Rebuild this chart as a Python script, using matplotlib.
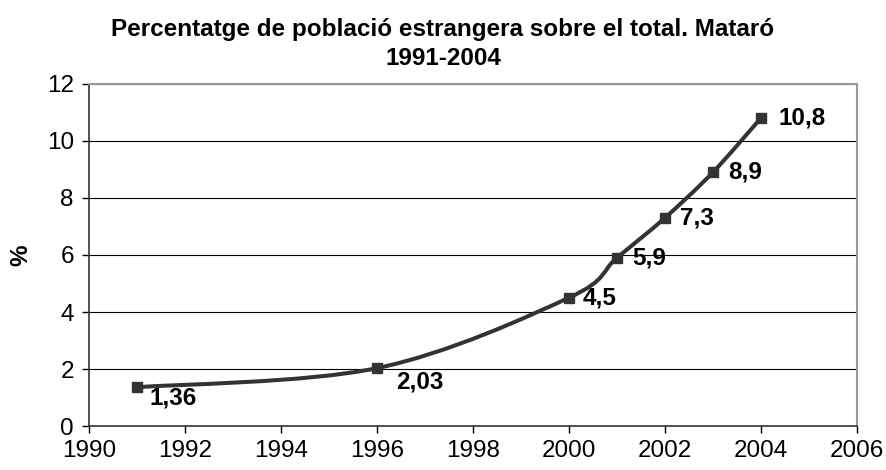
import numpy as np
import matplotlib.pyplot as plt
from matplotlib.path import Path
from matplotlib.patches import PathPatch

plt.rcParams['font.family'] = ['Liberation Sans', 'DejaVu Sans']

years = [1991, 1996, 2000, 2001, 2002, 2003, 2004]
pct = [1.36, 2.03, 4.5, 5.9, 7.3, 8.9, 10.8]
labels = ["1,36", "2,03", "4,5", "5,9", "7,3", "8,9", "10,8"]
# label offsets (points) relative to each marker
label_off = [(9, -8), (14, -10), (10, 0), (11, 0), (11, 0), (11, 0), (13, 0)]

line_col = "#333333"

fig = plt.figure(figsize=(8.86, 4.70), dpi=100)
ax = fig.add_axes([0.1005, 0.0936, 0.8665, 0.7277])

# smoothed line like Excel: cubic bezier through points (Catmull-Rom style)
pts = np.column_stack([years, pct]).astype(float)
verts = [pts[0]]
codes = [Path.MOVETO]
n = len(pts)
for i in range(n - 1):
    p0 = pts[max(i - 1, 0)]
    p1 = pts[i]
    p2 = pts[i + 1]
    p3 = pts[min(i + 2, n - 1)]
    c1 = p1 + (p2 - p0) / 6.0
    c2 = p2 - (p3 - p1) / 6.0
    verts += [c1, c2, p2]
    codes += [Path.CURVE4] * 3
ax.add_patch(PathPatch(Path(verts, codes), facecolor="none",
                       edgecolor=line_col, lw=2.9, zorder=3))
ax.plot(years, pct, linestyle="none", marker="s", ms=7, color=line_col, zorder=4)

for x, y, t, off in zip(years, pct, labels, label_off):
    ax.annotate(t, (x, y), xytext=off, textcoords="offset points",
                ha="left", va="center", fontsize=17.5, fontweight="bold")

ax.set_xlim(1990, 2006)
ax.set_ylim(0, 12)
ax.set_xticks(range(1990, 2007, 2))
ax.set_yticks(range(0, 13, 2))
ax.tick_params(labelsize=17.5, direction="out", length=5, width=1, color="black")
ax.tick_params(axis="x", pad=5)
ax.tick_params(axis="y", pad=6)
ax.yaxis.grid(True, color="black", lw=0.8)
ax.set_axisbelow(True)

for s in ["top", "right"]:
    ax.spines[s].set_color("#999999")
    ax.spines[s].set_linewidth(1.5)
for s in ["left", "bottom"]:
    ax.spines[s].set_color("#333333")
    ax.spines[s].set_linewidth(1.2)

ax.set_ylabel("%", fontsize=17.5, fontweight="bold", labelpad=10)
fig.text(0.5, 0.962, "Percentatge de població estrangera sobre el total. Mataró\n1991-2004",
         ha="center", va="top", fontsize=17.5, fontweight="bold", linespacing=1.35)

fig.savefig("out.png", dpi=100)
